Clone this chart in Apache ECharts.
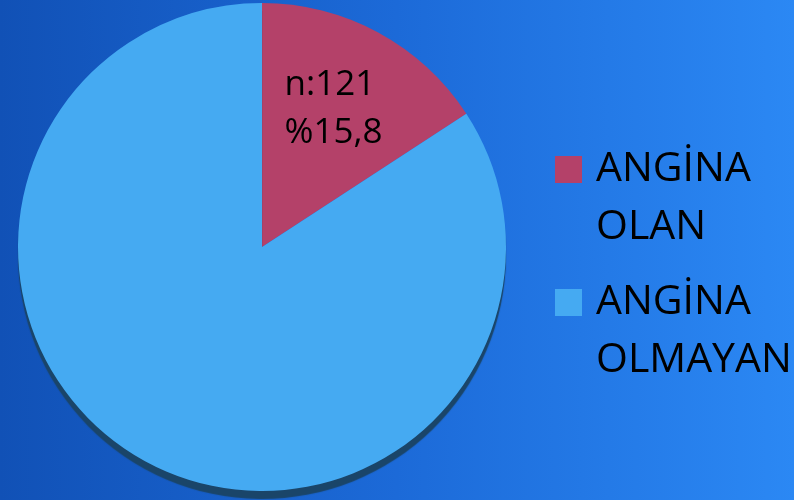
<!DOCTYPE html>
<html>
<head>
<meta charset="utf-8">
<script src="https://cdn.jsdelivr.net/npm/echarts@6/dist/echarts.min.js"></script>
<style>
  html, body { margin: 0; padding: 0; }
  #chart { width: 794px; height: 500px; }
</style>
</head>
<body>
<div id="chart"></div>
<script>
// Angina distribution among patients
const categories = ['ANGİNA OLAN', 'ANGİNA OLMAYAN'];
const legendLines = [['ANGİNA', 'OLAN'], ['ANGİNA', 'OLMAYAN']];
const counts = [121, 645];
const sliceColors = ['#B44169', '#45AAF2'];

const FONT = '"Open Sans", "Noto Sans", sans-serif';

const chart = echarts.init(document.getElementById('chart'), null, { renderer: 'canvas' });

const pieData = categories.map((name, i) => {
  const item = { name: name, value: counts[i], itemStyle: { color: sliceColors[i] } };
  if (i === 0) {
    item.label = {
      show: true,
      position: 'inside',
      offset: [13, -28],
      color: '#000',
      fontFamily: FONT,
      formatter: p => '{v|n:' + p.value + '}\n{v|%' + p.percent.toFixed(1).replace('.', ',') + '}',
      rich: {
        v: { width: 100, align: 'left', fontSize: 35, lineHeight: 48, color: '#000', fontFamily: FONT }
      }
    };
  } else {
    item.label = { show: false };
    // dark rim along the lower edge of the disc
    item.itemStyle.shadowColor = '#1a4569';
    item.itemStyle.shadowOffsetY = 8;
    item.itemStyle.shadowBlur = 1;
  }
  return item;
});

// legend rich styles: coloured squares plus spacer
const rich = {
  t: { fontSize: 41, lineHeight: 58, color: '#000', fontFamily: FONT },
  g: { width: 14, height: 27 },
  s: { width: 41, height: 27 }
};
sliceColors.forEach((c, i) => {
  rich['m' + i] = { width: 27, height: 27, backgroundColor: c };
});

chart.setOption({
  backgroundColor: {
    type: 'linear', x: 0, y: 0, x2: 1, y2: 0,
    colorStops: [
      { offset: 0, color: '#1151B6' },
      { offset: 0.5, color: '#1C6AD8' },
      { offset: 1, color: '#2B88F4' }
    ]
  },
  animation: false,
  legend: {
    orient: 'vertical',
    left: 550,
    top: 149,
    icon: 'none',
    itemWidth: 0,
    itemHeight: 0,
    itemGap: 34,
    padding: 0,
    selectedMode: false,
    data: categories,
    formatter: name => {
      const i = categories.indexOf(name);
      const lines = legendLines[i];
      return '{m' + i + '| }{g| }{t|' + lines[0] + '}\n{s| }{t|' + lines[1] + '}';
    },
    textStyle: { rich: rich, fontFamily: FONT, fontSize: 41 }
  },
  series: [{
    type: 'pie',
    center: [262, 247],
    radius: 244,
    startAngle: 90,
    clockwise: true,
    labelLine: { show: false },
    emphasis: { disabled: true },
    data: pieData
  }]
});
</script>
</body>
</html>
